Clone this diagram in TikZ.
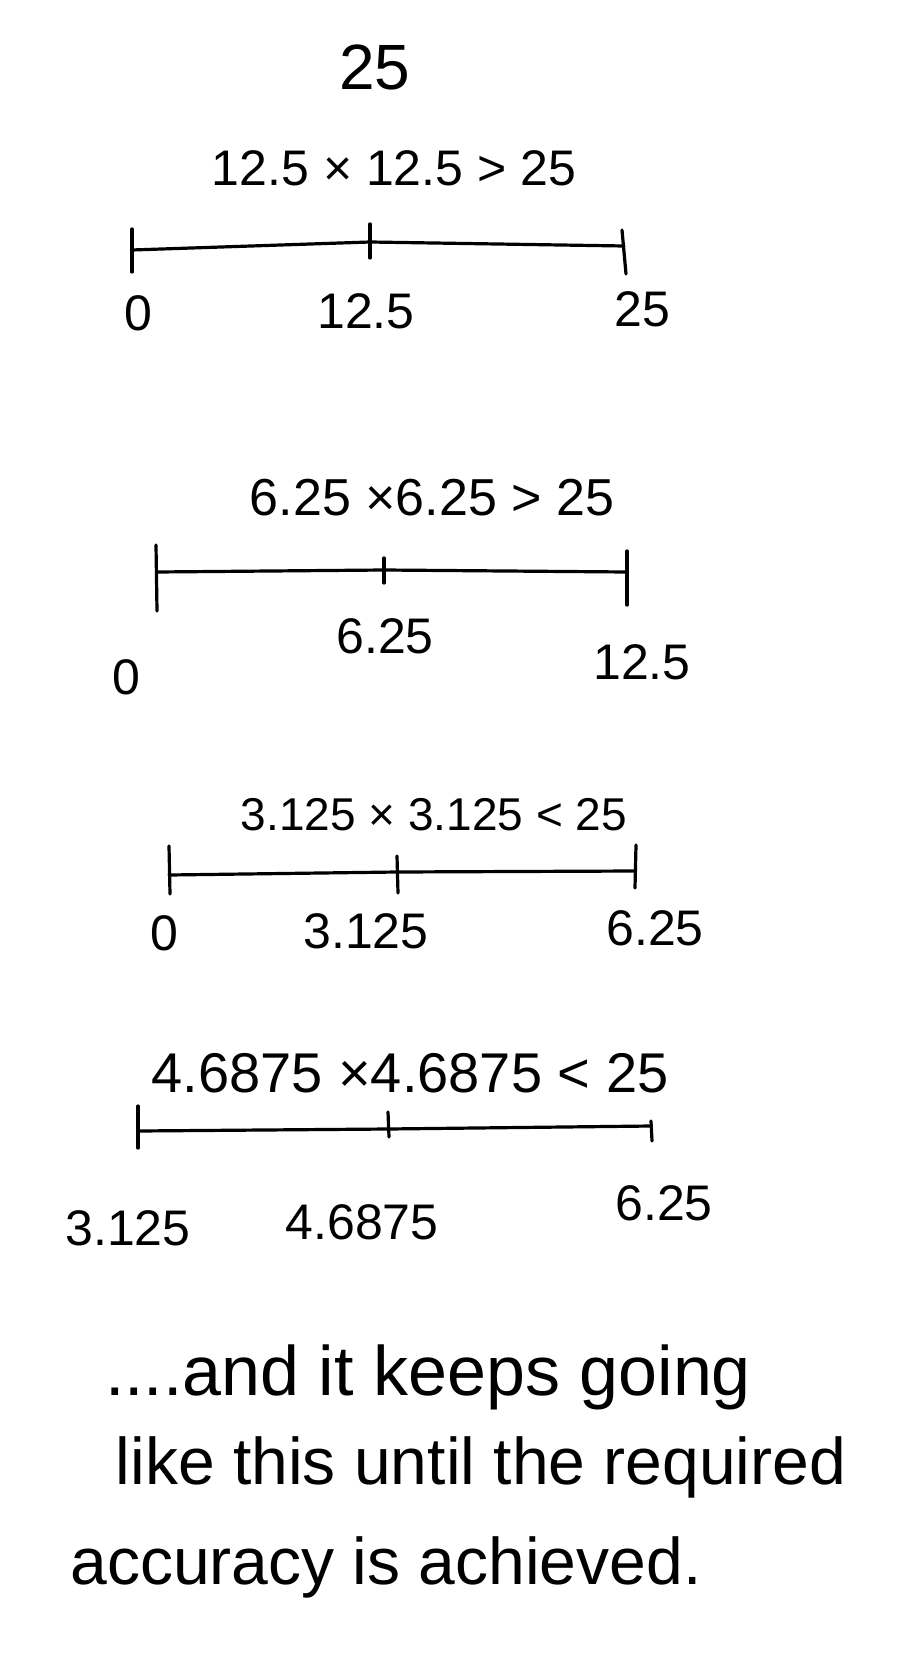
\documentclass[tikz,border=0pt]{standalone}
\usepackage{fontspec}
\setmainfont{Liberation Sans}
\begin{document}
\begin{tikzpicture}[x=0.5pt,y=-0.5pt,
  ink/.style={line width=1.6pt,line cap=round,line join=round,black},
  num/.style={inner sep=0pt,font=\fontsize{25}{30}\selectfont},
  eqn/.style={inner sep=0pt,font=\fontsize{#1}{30}\selectfont},
  prose/.style={inner sep=0pt,font=\fontsize{#1}{40}\selectfont}]
\useasboundingbox[fill=white] (0,0) rectangle (897,1658);

% title
\node[eqn=32] (title) at (375,67) {25};

% ---- row 1 ----
\node[eqn=25] (eq1) at (394,168) {12.5 × 12.5 > 25};
\coordinate (a1L) at (132,250);
\coordinate (a1M) at (370,242);
\coordinate (a1R) at (624,246);
\coordinate (a1Lt) at (132,229); \coordinate (a1Lb) at (132,272);
\coordinate (a1Mt) at (370,224); \coordinate (a1Mb) at (370,258);
\coordinate (a1Rt) at (622,230); \coordinate (a1Rb) at (626,274);
\draw[ink] (a1L) -- (a1M) -- (a1R);
\draw[ink] (a1Lt) -- (a1Lb);
\draw[ink] (a1Mt) -- (a1Mb);
\draw[ink] (a1Rt) -- (a1Rb);
\node[num] (n1a) at (138,313) {0};
\node[num] (n1b) at (366,311) {12.5};
\node[num] (n1c) at (642,309) {25};

% ---- row 2 ----
\node[eqn=26] (eq2) at (432,498) {6.25 ×6.25 > 25};
\coordinate (a2L) at (157,572);
\coordinate (a2M) at (384,570);
\coordinate (a2R) at (627,572);
\coordinate (a2Lt) at (156,545); \coordinate (a2Lb) at (157,611);
\coordinate (a2Mt) at (384,558); \coordinate (a2Mb) at (384,583);
\coordinate (a2Rt) at (627,551); \coordinate (a2Rb) at (627,605);
\draw[ink] (a2L) -- (a2M) -- (a2R);
\draw[ink] (a2Lt) -- (a2Lb);
\draw[ink] (a2Mt) -- (a2Mb);
\draw[ink] (a2Rt) -- (a2Rb);
\node[num] (n2a) at (126,677) {0};
\node[num] (n2b) at (385,636) {6.25};
\node[num] (n2c) at (642,662) {12.5};

% ---- row 3 ----
\node[eqn=23] (eq3) at (434,815) {3.125 × 3.125 < 25};
\coordinate (a3L) at (169,875);
\coordinate (a3M) at (397,872);
\coordinate (a3R) at (635,871);
\coordinate (a3Lt) at (169,846); \coordinate (a3Lb) at (170,894);
\coordinate (a3Mt) at (397,856); \coordinate (a3Mb) at (398,893);
\coordinate (a3Rt) at (636,845); \coordinate (a3Rb) at (635,888);
\draw[ink] (a3L) -- (a3M) -- (a3R);
\draw[ink] (a3Lt) -- (a3Lb);
\draw[ink] (a3Mt) -- (a3Mb);
\draw[ink] (a3Rt) -- (a3Rb);
\node[num] (n3a) at (164,933) {0};
\node[num] (n3b) at (366,931) {3.125};
\node[num] (n3c) at (655,928) {6.25};

% ---- row 4 ----
\node[eqn=28] (eq4) at (410,1073) {4.6875 ×4.6875 < 25};
\coordinate (a4L) at (138,1131);
\coordinate (a4M) at (388,1129);
\coordinate (a4R) at (651,1126);
\coordinate (a4Lt) at (138,1106); \coordinate (a4Lb) at (138,1148);
\coordinate (a4Mt) at (388,1112); \coordinate (a4Mb) at (389,1137);
\coordinate (a4Rt) at (651,1121); \coordinate (a4Rb) at (652,1141);
\draw[ink] (a4L) -- (a4M) -- (a4R);
\draw[ink] (a4Lt) -- (a4Lb);
\draw[ink] (a4Mt) -- (a4Mb);
\draw[ink] (a4Rt) -- (a4Rb);
\node[num] (n4a) at (128,1228) {3.125};
\node[num] (n4b) at (362,1222) {4.6875};
\node[num] (n4c) at (664,1203) {6.25};

% ---- closing text ----
\node[prose=35] (t1) at (428,1377) {....and it keeps going};
\node[prose=33] (t2) at (481,1467) {like this until the required};
\node[prose=33] (t3) at (386,1567) {accuracy is achieved.};
\end{tikzpicture}
\end{document}
